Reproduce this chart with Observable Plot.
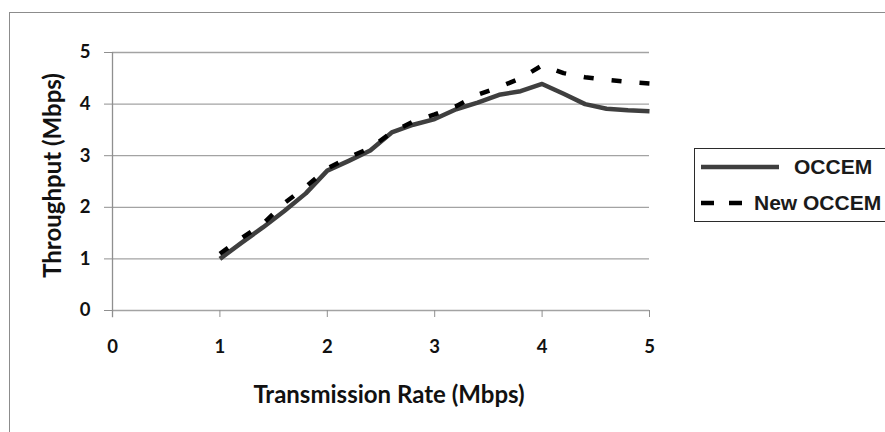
<!DOCTYPE html>
<html>
<head>
<meta charset="utf-8">
<script src="https://cdn.jsdelivr.net/npm/d3@7"></script>
<script src="https://cdn.jsdelivr.net/npm/@observablehq/plot@0.6"></script>
<style>
  html, body { margin: 0; padding: 0; background: #fff; overflow: hidden; }
  #wrap { position: relative; width: 885px; height: 432px; overflow: hidden; }
  #frame { position: absolute; left: 9px; top: 12px; width: 900px; height: 440px;
           border-left: 1.5px solid #8c8c8c; border-top: 1.5px solid #8c8c8c; }
  #legend { position: absolute; left: 694px; top: 148px; width: 220px; height: 72px;
            border: 1.5px solid #2b2b2b; background: #fff;
            font-family: "Liberation Sans", Arial, sans-serif; font-weight: bold; font-size: 21px; color: #1a1a1a; }
  .row { position: absolute; left: 0; height: 24px; display: flex; align-items: center; }
  .row svg { display: block; }
  .row span { white-space: nowrap; }
</style>
</head>
<body>
<div id="wrap">
  <div id="frame"></div>
  <div id="chart" style="position:absolute;left:0;top:0;"></div>
  <div id="legend"></div>
</div>
<script>
// Data
const rate = [1.0, 1.2, 1.4, 1.6, 1.8, 2.0, 2.2, 2.4, 2.6, 2.8, 3.0, 3.2, 3.4, 3.6, 3.8, 4.0, 4.2, 4.4, 4.6, 4.8, 5.0];
const occem = [1.0, 1.31, 1.61, 1.93, 2.27, 2.71, 2.90, 3.10, 3.45, 3.60, 3.71, 3.90, 4.03, 4.18, 4.25, 4.39, 4.20, 4.00, 3.91, 3.88, 3.86];
const newOccem = [1.1, 1.40, 1.68, 2.08, 2.40, 2.75, 2.97, 3.15, 3.45, 3.66, 3.80, 3.96, 4.18, 4.33, 4.50, 4.75, 4.60, 4.52, 4.47, 4.43, 4.40];
const seriesNames = ["OCCEM", "New OCCEM"];
const xTicks = [0, 1, 2, 3, 4, 5];
const yTicks = [0, 1, 2, 3, 4, 5];
const xLabel = "Transmission Rate (Mbps)";
const yLabel = "Throughput (Mbps)";

const rowsA = rate.map((x, i) => ({x, y: occem[i]}));
const rowsB = rate.map((x, i) => ({x, y: newOccem[i]}));

const tickFont = "Lato, 'Open Sans', sans-serif";
const chart = Plot.plot({
  width: 885,
  height: 432,
  marginLeft: 112,
  marginRight: 236,
  marginTop: 52,
  marginBottom: 122,
  style: {background: "transparent", fontFamily: tickFont},
  x: {domain: [0, 5]},
  y: {domain: [0, 5]},
  marks: [
    Plot.ruleY(yTicks, {x1: 0, x2: 5, stroke: "#a3a3a3", strokeWidth: 1.3}),
    Plot.ruleX([0], {y1: -0.14, y2: 5, stroke: "#8f8f8f", strokeWidth: 1.3}),
    Plot.axisY({ticks: yTicks, tickSize: 8, tickPadding: 14, stroke: "#8f8f8f", fontSize: 18.5, fontWeight: "bold", fill: "#111", label: null, tickFormat: d => String(d)}),
    Plot.axisX({ticks: xTicks, tickSize: 7, tickPadding: 22, stroke: "#8f8f8f", fontSize: 18.5, fontWeight: "bold", fill: "#111", label: null, tickFormat: d => String(d)}),
    Plot.line(rowsA, {x: "x", y: "y", stroke: "#3f3f3f", strokeWidth: 4.5, strokeLinejoin: "round", strokeLinecap: "butt"}),
    Plot.line(rowsB, {x: "x", y: "y", stroke: "#000", strokeWidth: 4.5, strokeDasharray: "10,18", strokeLinejoin: "miter", strokeLinecap: "butt"}),
    Plot.text([yLabel], {frameAnchor: "left", textAnchor: "middle", lineAnchor: "middle", dx: -59, dy: -6, rotate: -90, fontSize: 24, fontWeight: "bold", fill: "#111"}),
    Plot.text([xLabel], {frameAnchor: "bottom", textAnchor: "middle", lineAnchor: "middle", dx: 8, dy: 85, fontSize: 24, fontWeight: "bold", fill: "#111"})
  ]
});
document.getElementById("chart").appendChild(chart);

// Legend
const legend = document.getElementById("legend");
const styles = [
  {name: seriesNames[0], dash: null, color: "#3f3f3f", top: 6, len: 78, gap: 15},
  {name: seriesNames[1], dash: "13,15", color: "#000", top: 42, len: 42, gap: 11}
];
styles.forEach(s => {
  const row = document.createElement("div");
  row.className = "row";
  row.style.top = s.top + "px";
  row.style.left = "6px";
  const svg = d3.create("svg").attr("width", s.len).attr("height", 24);
  svg.append("line").attr("x1", 0).attr("x2", s.len).attr("y1", 12).attr("y2", 12)
    .attr("stroke", s.color).attr("stroke-width", 4.5)
    .attr("stroke-linecap", s.dash ? "butt" : "round")
    .attr("stroke-dasharray", s.dash);
  row.appendChild(svg.node());
  const sp = document.createElement("span");
  sp.textContent = s.name;
  sp.style.marginLeft = s.gap + "px";
  row.appendChild(sp);
  legend.appendChild(row);
});
</script>
</body>
</html>
